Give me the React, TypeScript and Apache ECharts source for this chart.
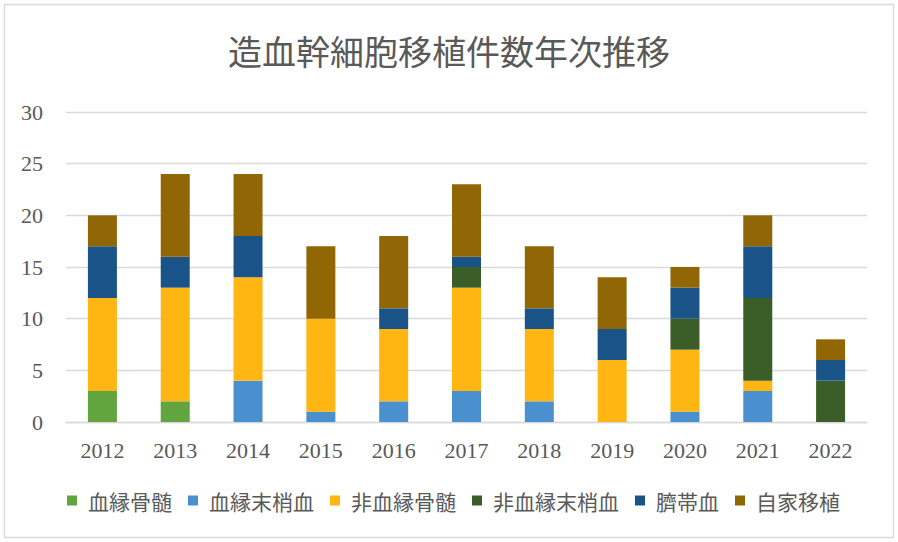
import React, { useEffect, useRef } from "react";
import * as echarts from "echarts";

const years = ["2012", "2013", "2014", "2015", "2016", "2017", "2018", "2019", "2020", "2021", "2022"];
const relatedBM = [3, 2, 0, 0, 0, 0, 0, 0, 0, 0, 0];
const relatedPB = [0, 0, 4, 1, 2, 3, 2, 0, 1, 3, 0];
const unrelatedBM = [9, 11, 10, 9, 7, 10, 7, 6, 6, 1, 0];
const unrelatedPB = [0, 0, 0, 0, 0, 2, 0, 0, 3, 8, 4];
const cordBlood = [5, 3, 4, 0, 2, 1, 2, 3, 3, 5, 2];
const autologous = [3, 8, 6, 7, 7, 7, 6, 5, 2, 3, 2];

const seriesNames = ["血縁骨髄", "血縁末梢血", "非血縁骨髄", "非血縁末梢血", "臍帯血", "自家移植"];
const seriesData = [relatedBM, relatedPB, unrelatedBM, unrelatedPB, cordBlood, autologous];
const seriesColors = ["#62A43D", "#4A90CF", "#FFB612", "#3B5E29", "#1A5387", "#916705"];

const serif = "'Liberation Serif', 'Noto Serif CJK JP', serif";
const sans = "'Noto Sans CJK JP', sans-serif";

export default function App() {
  const ref = useRef<HTMLDivElement>(null);
  useEffect(() => {
    const chart = echarts.init(ref.current!, null, { renderer: "svg" });
    chart.setOption({
      animation: false,
      backgroundColor: "#ffffff",
      title: {
        text: "造血幹細胞移植件数年次推移",
        left: "center",
        top: 28,
        textStyle: { fontFamily: sans, fontSize: 34, fontWeight: "normal", color: "#595959" },
      },
      graphic: [
        {
          type: "rect",
          shape: { x: 4.5, y: 4.5, width: 889, height: 533 },
          style: { fill: "none", stroke: "#d9d9d9", lineWidth: 1.3 },
          silent: true,
        },
      ],
      grid: { left: 66, right: 31, top: 112, bottom: 120 },
      legend: {
        top: 485,
        left: 62,
        itemWidth: 10,
        itemHeight: 10,
        itemGap: 16,
        icon: "rect",
        textStyle: { fontFamily: sans, fontSize: 21, color: "#595959", padding: [0, 0, 0, 6] },
        data: seriesNames,
      },
      xAxis: {
        type: "category",
        data: years,
        axisLine: { lineStyle: { color: "#d9d9d9", width: 1.3 } },
        axisTick: { show: false },
        axisLabel: { fontFamily: serif, fontSize: 22, color: "#595959", margin: 17 },
      },
      yAxis: {
        type: "value",
        min: 0,
        max: 30,
        interval: 5,
        axisLine: { show: false },
        axisTick: { show: false },
        splitLine: { lineStyle: { color: "#d9d9d9", width: 1.3 } },
        axisLabel: { fontFamily: serif, fontSize: 22, color: "#595959", margin: 23 },
      },
      series: seriesNames.map((name, i) => ({
        name,
        type: "bar",
        stack: "total",
        barWidth: 29,
        data: seriesData[i],
        itemStyle: { color: seriesColors[i] },
      })),
    });
    return () => chart.dispose();
  }, []);
  return (
    <div style={{ position: "fixed", left: 0, top: 0, width: 898, height: 542 }}>
      <div ref={ref} style={{ width: 898, height: 542 }} />
    </div>
  );
}
